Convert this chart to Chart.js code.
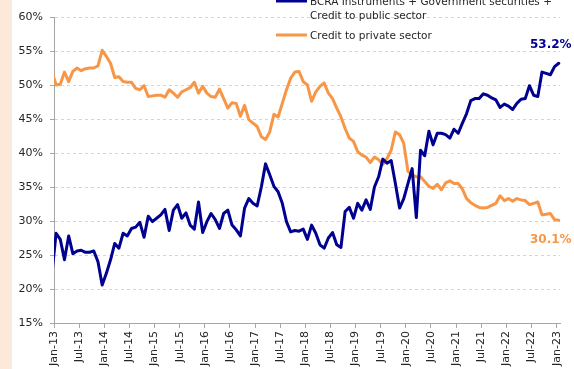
<!DOCTYPE html>
<html>
<head>
<meta charset="utf-8">
<script src="https://cdn.jsdelivr.net/npm/chart.js@4.4.1/dist/chart.umd.min.js"></script>
<style>
  html, body { margin: 0; padding: 0; background: #ffffff; }
  canvas { display: block; }
</style>
</head>
<body>
<canvas id="chart" width="574" height="369"></canvas>
<script>
// Monthly observations, Dec-12 through Jan-23 (share of total assets, %)
const firstYear = 2012, firstMonth = 11; // Dec-12
const monthNames = ['Jan','Feb','Mar','Apr','May','Jun','Jul','Aug','Sep','Oct','Nov','Dec'];

const publicSector = [
  22.2,
  28.2, 27.3, 24.3, 27.8, 25.2, 25.6, 25.7, 25.4, 25.4, 25.6, 24.0, 20.6,
  22.3, 24.3, 26.7, 26.0, 28.2, 27.8, 28.9, 29.1, 29.8, 27.6, 30.7, 29.9,
  30.4, 30.9, 31.7, 28.6, 31.6, 32.4, 30.4, 31.2, 29.4, 28.8, 32.8, 28.3,
  29.9, 31.1, 30.2, 28.9, 31.1, 31.6, 29.4, 28.7, 27.8, 31.9, 33.3, 32.6,
  32.2, 35.0, 38.4, 36.8, 35.1, 34.3, 32.6, 29.9, 28.4, 28.6, 28.5, 28.8,
  27.3, 29.4, 28.2, 26.5, 26.0, 27.5, 28.3, 26.5, 26.1, 31.4, 32.0, 30.4,
  32.6, 31.6, 33.1, 31.7, 35.0, 36.5, 39.1, 38.5, 38.9, 35.5, 31.9, 33.3,
  35.5, 37.7, 30.5, 40.4, 39.6, 43.2, 41.2, 42.9, 42.9, 42.7, 42.2, 43.5,
  42.9, 44.4, 45.8, 47.7, 48.0, 48.0, 48.7, 48.5, 48.1, 47.8, 46.7, 47.2,
  46.9, 46.4, 47.3, 47.9, 48.0, 49.9, 48.5, 48.3, 51.9, 51.7, 51.5, 52.7,
  53.2
];

const privateSector = [
  52.0,
  50.0, 50.1, 51.9, 50.5, 52.0, 52.5, 52.1, 52.4, 52.5, 52.5, 52.8, 55.1,
  54.2, 53.2, 51.1, 51.2, 50.5, 50.4, 50.4, 49.5, 49.3, 49.9, 48.3, 48.4,
  48.5, 48.5, 48.2, 49.3, 48.8, 48.2, 49.0, 49.3, 49.6, 50.4, 48.8, 49.8,
  48.8, 48.3, 48.2, 49.4, 48.0, 46.6, 47.4, 47.3, 45.4, 47.0, 44.9, 44.4,
  43.9, 42.4, 42.0, 43.1, 45.7, 45.3, 47.3, 49.3, 51.0, 51.9, 52.0, 50.5,
  50.0, 47.6, 49.0, 49.8, 50.3, 48.8, 48.0, 46.6, 45.3, 43.6, 42.2, 41.7,
  40.2, 39.7, 39.4, 38.6, 39.4, 39.0, 38.3, 39.2, 40.4, 43.1, 42.7, 41.4,
  37.3, 36.8, 36.5, 36.5, 35.8, 35.1, 34.8, 35.4, 34.6, 35.6, 35.9, 35.5,
  35.5, 34.7, 33.3, 32.7, 32.3, 32.0, 31.9, 32.0, 32.3, 32.6, 33.7, 33.0,
  33.3, 32.9, 33.3, 33.1, 33.0, 32.4, 32.6, 32.8, 30.9, 31.0, 31.1, 30.2,
  30.1
];

const tickLabels = [
  'Jan-13','Jul-13','Jan-14','Jul-14','Jan-15','Jul-15','Jan-16','Jul-16',
  'Jan-17','Jul-17','Jan-18','Jul-18','Jan-19','Jul-19','Jan-20','Jul-20',
  'Jan-21','Jul-21','Jan-22','Jul-22','Jan-23'
];

const seriesNames = [
  ['BCRA Instruments + Government securities +', 'Credit to public sector'],
  ['Credit to private sector']
];
const seriesColors = ['#000091', '#F79646'];

// Month labels for every observation
const months = publicSector.map((_, i) => {
  const m = firstMonth + i;
  return monthNames[m % 12] + '-' + String((firstYear + Math.floor(m / 12)) % 100).padStart(2, '0');
});

// x = months since 1 Jan 2013; each monthly value sits mid-month
const toPoints = vals => vals.map((v, i) => ({ x: i - 0.5, y: v, month: months[i] }));

const FONT = '"DejaVu Sans", Verdana, sans-serif';
const TEXT = '#262626';
const AXIS = '#a6a6a6';

const decor = {
  id: 'decor',
  beforeDraw(chart) {
    const ctx = chart.ctx;
    ctx.save();
    ctx.fillStyle = '#ffffff';
    ctx.fillRect(0, 0, chart.width, chart.height);
    ctx.fillStyle = '#FDE9D9';
    ctx.fillRect(0, 0, 12, chart.height);
    ctx.restore();
  },
  afterDraw(chart) {
    const ctx = chart.ctx;
    const xs = chart.scales.x, ys = chart.scales.y;
    ctx.save();

    // legend (top right)
    const rows = [
      { swatchY: 1, baselines: [5, 19] },
      { swatchY: 35, baselines: [39] }
    ];
    ctx.font = '10.5px ' + FONT;
    ctx.textAlign = 'left';
    ctx.textBaseline = 'alphabetic';
    chart.data.datasets.forEach((ds, i) => {
      const r = rows[i];
      ctx.strokeStyle = ds.borderColor;
      ctx.lineWidth = 3;
      ctx.beginPath();
      ctx.moveTo(276, r.swatchY);
      ctx.lineTo(307, r.swatchY);
      ctx.stroke();
      ctx.fillStyle = TEXT;
      seriesNames[i].forEach((line, j) => ctx.fillText(line, 310, r.baselines[j]));
    });

    // value labels at the last observation
    ctx.font = 'bold 12px ' + FONT;
    ctx.textAlign = 'center';
    ctx.textBaseline = 'middle';
    chart.data.datasets.forEach((ds, i) => {
      const last = ds.data[ds.data.length - 1];
      const px = xs.getPixelForValue(last.x);
      const py = ys.getPixelForValue(last.y);
      ctx.fillStyle = ds.borderColor;
      ctx.fillText(last.y.toFixed(1) + '%', px - 8, py + (i === 0 ? -18 : 20));
    });
    ctx.restore();
  }
};

const lineStyle = color => ({
  borderColor: color,
  backgroundColor: color,
  borderWidth: 3,
  pointRadius: 0,
  tension: 0,
  borderJoinStyle: 'round',
  borderCapStyle: 'round',
  clip: { left: 0, top: 4, right: 4, bottom: 4 }
});

new Chart(document.getElementById('chart'), {
  type: 'line',
  data: {
    datasets: [
      { label: seriesNames[0].join(' '), data: toPoints(publicSector), ...lineStyle(seriesColors[0]) },
      { label: seriesNames[1].join(' '), data: toPoints(privateSector), ...lineStyle(seriesColors[1]) }
    ]
  },
  options: {
    responsive: false,
    devicePixelRatio: 1,
    animation: false,
    layout: { padding: { top: 17, right: 14, left: 0, bottom: 0 } },
    plugins: { legend: { display: false }, tooltip: { enabled: false } },
    scales: {
      x: {
        type: 'linear',
        min: 0,
        max: 120.8,
        afterFit(s) { s.height = 46; },
        afterBuildTicks(s) { s.ticks = tickLabels.map((_, j) => ({ value: j * 6 })); },
        border: { display: true, color: AXIS, width: 1 },
        grid: { display: true, drawOnChartArea: false, drawTicks: true, tickLength: 5, tickColor: AXIS },
        ticks: {
          autoSkip: false,
          minRotation: 90,
          maxRotation: 90,
          padding: 3,
          color: TEXT,
          font: { family: FONT, size: 11 },
          callback: v => tickLabels[Math.round(v / 6)]
        }
      },
      y: {
        min: 15,
        max: 60,
        afterFit(s) { s.width = 54; },
        border: { display: true, color: AXIS, width: 1, dash: [3, 3] },
        grid: { color: '#d4d4d4', lineWidth: 1, drawTicks: true, tickLength: 4, tickColor: AXIS, tickBorderDash: [] },
        ticks: {
          stepSize: 5,
          padding: 7,
          color: TEXT,
          font: { family: FONT, size: 11 },
          callback: v => v + '%'
        }
      }
    }
  },
  plugins: [decor]
});
</script>
</body>
</html>
